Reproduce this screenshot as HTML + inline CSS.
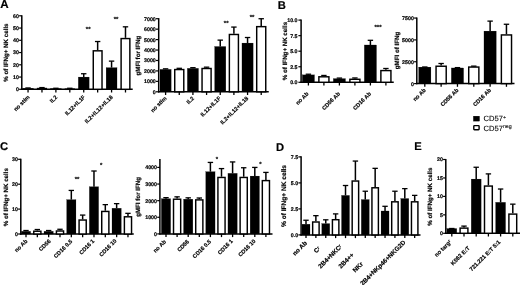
<!DOCTYPE html>
<html><head><meta charset="utf-8"><title>Figure</title>
<style>
html,body{margin:0;padding:0;background:#fff;}
body{width:520px;height:285px;overflow:hidden;}
svg{display:block;font-family:"Liberation Sans", sans-serif;text-rendering:geometricPrecision;}
</style></head><body>
<svg width="520" height="285" viewBox="0 0 520 285">
<rect x="0" y="0" width="520" height="285" fill="#fff"/>
<g fill="#000" stroke="#000" stroke-width="0.18">
<line x1="21.80" y1="15.20" x2="21.80" y2="89.95" stroke="#000" stroke-width="1.5"/>
<line x1="21.15" y1="89.30" x2="132.70" y2="89.30" stroke="#000" stroke-width="1.5"/>
<line x1="19.10" y1="89.30" x2="21.80" y2="89.30" stroke="#000" stroke-width="1.2"/>
<text x="18.90" y="91.21" font-size="5.3" font-weight="bold" text-anchor="end">0</text>
<line x1="19.10" y1="77.05" x2="21.80" y2="77.05" stroke="#000" stroke-width="1.2"/>
<text x="18.90" y="78.96" font-size="5.3" font-weight="bold" text-anchor="end">10</text>
<line x1="19.10" y1="64.80" x2="21.80" y2="64.80" stroke="#000" stroke-width="1.2"/>
<text x="18.90" y="66.71" font-size="5.3" font-weight="bold" text-anchor="end">20</text>
<line x1="19.10" y1="52.55" x2="21.80" y2="52.55" stroke="#000" stroke-width="1.2"/>
<text x="18.90" y="54.46" font-size="5.3" font-weight="bold" text-anchor="end">30</text>
<line x1="19.10" y1="40.30" x2="21.80" y2="40.30" stroke="#000" stroke-width="1.2"/>
<text x="18.90" y="42.21" font-size="5.3" font-weight="bold" text-anchor="end">40</text>
<line x1="19.10" y1="28.05" x2="21.80" y2="28.05" stroke="#000" stroke-width="1.2"/>
<text x="18.90" y="29.96" font-size="5.3" font-weight="bold" text-anchor="end">50</text>
<line x1="19.10" y1="15.80" x2="21.80" y2="15.80" stroke="#000" stroke-width="1.2"/>
<text x="18.90" y="17.71" font-size="5.3" font-weight="bold" text-anchor="end">60</text>
<line x1="28.05" y1="88.20" x2="28.05" y2="87.95" stroke="#000" stroke-width="1.5"/>
<line x1="25.35" y1="87.95" x2="30.75" y2="87.95" stroke="#000" stroke-width="1.3"/>
<rect x="22.60" y="88.20" width="10.90" height="1.10" fill="#000"/>
<line x1="28.05" y1="89.30" x2="28.05" y2="92.50" stroke="#000" stroke-width="1.3"/>
<line x1="41.97" y1="87.83" x2="41.97" y2="87.58" stroke="#000" stroke-width="1.5"/>
<line x1="39.27" y1="87.58" x2="44.67" y2="87.58" stroke="#000" stroke-width="1.3"/>
<rect x="37.59" y="88.55" width="8.75" height="0.74" fill="#fff" stroke="#000" stroke-width="1.45"/>
<line x1="41.97" y1="89.30" x2="41.97" y2="92.50" stroke="#000" stroke-width="1.3"/>
<line x1="55.89" y1="88.44" x2="55.89" y2="88.26" stroke="#000" stroke-width="1.5"/>
<line x1="53.19" y1="88.26" x2="58.59" y2="88.26" stroke="#000" stroke-width="1.3"/>
<rect x="50.44" y="88.44" width="10.90" height="0.86" fill="#000"/>
<line x1="55.89" y1="89.30" x2="55.89" y2="92.50" stroke="#000" stroke-width="1.3"/>
<line x1="69.81" y1="88.44" x2="69.81" y2="88.26" stroke="#000" stroke-width="1.5"/>
<line x1="67.11" y1="88.26" x2="72.51" y2="88.26" stroke="#000" stroke-width="1.3"/>
<rect x="65.44" y="89.17" width="8.75" height="0.13" fill="#fff" stroke="#000" stroke-width="1.45"/>
<line x1="69.81" y1="89.30" x2="69.81" y2="92.50" stroke="#000" stroke-width="1.3"/>
<line x1="83.73" y1="77.05" x2="83.73" y2="73.74" stroke="#000" stroke-width="1.5"/>
<line x1="81.03" y1="73.74" x2="86.43" y2="73.74" stroke="#000" stroke-width="1.3"/>
<rect x="78.28" y="77.05" width="10.90" height="12.25" fill="#000"/>
<line x1="83.73" y1="89.30" x2="83.73" y2="92.50" stroke="#000" stroke-width="1.3"/>
<line x1="97.65" y1="50.10" x2="97.65" y2="41.52" stroke="#000" stroke-width="1.5"/>
<line x1="94.95" y1="41.52" x2="100.35" y2="41.52" stroke="#000" stroke-width="1.3"/>
<rect x="93.27" y="50.82" width="8.75" height="38.48" fill="#fff" stroke="#000" stroke-width="1.45"/>
<line x1="97.65" y1="89.30" x2="97.65" y2="92.50" stroke="#000" stroke-width="1.3"/>
<line x1="111.57" y1="67.62" x2="111.57" y2="61.12" stroke="#000" stroke-width="1.5"/>
<line x1="108.87" y1="61.12" x2="114.27" y2="61.12" stroke="#000" stroke-width="1.3"/>
<rect x="106.12" y="67.62" width="10.90" height="21.68" fill="#000"/>
<line x1="111.57" y1="89.30" x2="111.57" y2="92.50" stroke="#000" stroke-width="1.3"/>
<line x1="125.49" y1="37.85" x2="125.49" y2="26.82" stroke="#000" stroke-width="1.5"/>
<line x1="122.79" y1="26.82" x2="128.19" y2="26.82" stroke="#000" stroke-width="1.3"/>
<rect x="121.11" y="38.57" width="8.75" height="50.73" fill="#fff" stroke="#000" stroke-width="1.45"/>
<line x1="125.49" y1="89.30" x2="125.49" y2="92.50" stroke="#000" stroke-width="1.3"/>
<text x="8.00" y="52.60" font-size="6.2" font-weight="bold" text-anchor="middle" transform="rotate(-90 8.00 52.60)">% of IFNg+ NK cells</text>
<text x="30.00" y="97.50" font-size="5.6" font-weight="bold" text-anchor="end" transform="rotate(-45 30.00 97.50)">no stim</text>
<text x="57.80" y="97.50" font-size="5.6" font-weight="bold" text-anchor="end" transform="rotate(-45 57.80 97.50)">IL2</text>
<text x="85.50" y="97.50" font-size="5.6" font-weight="bold" text-anchor="end" transform="rotate(-45 85.50 97.50)">IL12+IL1F</text>
<text x="113.20" y="97.50" font-size="5.6" font-weight="bold" text-anchor="end" transform="rotate(-45 113.20 97.50)">IL2+IL12+IL18</text>
<text x="88.20" y="31.20" font-size="6" font-weight="bold" text-anchor="middle">**</text>
<text x="116.00" y="21.20" font-size="6" font-weight="bold" text-anchor="middle">**</text>
<line x1="158.70" y1="18.12" x2="158.70" y2="92.45" stroke="#000" stroke-width="1.5"/>
<line x1="158.05" y1="91.80" x2="268.75" y2="91.80" stroke="#000" stroke-width="1.5"/>
<line x1="156.00" y1="91.80" x2="158.70" y2="91.80" stroke="#000" stroke-width="1.2"/>
<text x="155.80" y="93.71" font-size="5.3" font-weight="bold" text-anchor="end">0</text>
<line x1="156.00" y1="81.36" x2="158.70" y2="81.36" stroke="#000" stroke-width="1.2"/>
<text x="155.80" y="83.27" font-size="5.3" font-weight="bold" text-anchor="end">1000</text>
<line x1="156.00" y1="70.92" x2="158.70" y2="70.92" stroke="#000" stroke-width="1.2"/>
<text x="155.80" y="72.83" font-size="5.3" font-weight="bold" text-anchor="end">2000</text>
<line x1="156.00" y1="60.48" x2="158.70" y2="60.48" stroke="#000" stroke-width="1.2"/>
<text x="155.80" y="62.39" font-size="5.3" font-weight="bold" text-anchor="end">3000</text>
<line x1="156.00" y1="50.04" x2="158.70" y2="50.04" stroke="#000" stroke-width="1.2"/>
<text x="155.80" y="51.95" font-size="5.3" font-weight="bold" text-anchor="end">4000</text>
<line x1="156.00" y1="39.60" x2="158.70" y2="39.60" stroke="#000" stroke-width="1.2"/>
<text x="155.80" y="41.51" font-size="5.3" font-weight="bold" text-anchor="end">5000</text>
<line x1="156.00" y1="29.16" x2="158.70" y2="29.16" stroke="#000" stroke-width="1.2"/>
<text x="155.80" y="31.07" font-size="5.3" font-weight="bold" text-anchor="end">6000</text>
<line x1="156.00" y1="18.72" x2="158.70" y2="18.72" stroke="#000" stroke-width="1.2"/>
<text x="155.80" y="20.63" font-size="5.3" font-weight="bold" text-anchor="end">7000</text>
<line x1="165.60" y1="69.35" x2="165.60" y2="68.83" stroke="#000" stroke-width="1.5"/>
<line x1="162.90" y1="68.83" x2="168.30" y2="68.83" stroke="#000" stroke-width="1.3"/>
<rect x="160.00" y="69.35" width="11.20" height="22.45" fill="#000"/>
<line x1="165.60" y1="91.80" x2="165.60" y2="95.00" stroke="#000" stroke-width="1.3"/>
<line x1="179.26" y1="68.83" x2="179.26" y2="68.31" stroke="#000" stroke-width="1.5"/>
<line x1="176.56" y1="68.31" x2="181.96" y2="68.31" stroke="#000" stroke-width="1.3"/>
<rect x="174.73" y="69.56" width="9.05" height="22.24" fill="#fff" stroke="#000" stroke-width="1.45"/>
<line x1="179.26" y1="91.80" x2="179.26" y2="95.00" stroke="#000" stroke-width="1.3"/>
<line x1="192.92" y1="68.31" x2="192.92" y2="67.68" stroke="#000" stroke-width="1.5"/>
<line x1="190.22" y1="67.68" x2="195.62" y2="67.68" stroke="#000" stroke-width="1.3"/>
<rect x="187.32" y="68.31" width="11.20" height="23.49" fill="#000"/>
<line x1="192.92" y1="91.80" x2="192.92" y2="95.00" stroke="#000" stroke-width="1.3"/>
<line x1="206.58" y1="67.79" x2="206.58" y2="67.16" stroke="#000" stroke-width="1.5"/>
<line x1="203.88" y1="67.16" x2="209.28" y2="67.16" stroke="#000" stroke-width="1.3"/>
<rect x="202.05" y="68.51" width="9.05" height="23.29" fill="#fff" stroke="#000" stroke-width="1.45"/>
<line x1="206.58" y1="91.80" x2="206.58" y2="95.00" stroke="#000" stroke-width="1.3"/>
<line x1="220.24" y1="46.49" x2="220.24" y2="40.12" stroke="#000" stroke-width="1.5"/>
<line x1="217.54" y1="40.12" x2="222.94" y2="40.12" stroke="#000" stroke-width="1.3"/>
<rect x="214.64" y="46.49" width="11.20" height="45.31" fill="#000"/>
<line x1="220.24" y1="91.80" x2="220.24" y2="95.00" stroke="#000" stroke-width="1.3"/>
<line x1="233.90" y1="33.75" x2="233.90" y2="27.07" stroke="#000" stroke-width="1.5"/>
<line x1="231.20" y1="27.07" x2="236.60" y2="27.07" stroke="#000" stroke-width="1.3"/>
<rect x="229.37" y="34.48" width="9.05" height="57.32" fill="#fff" stroke="#000" stroke-width="1.45"/>
<line x1="233.90" y1="91.80" x2="233.90" y2="95.00" stroke="#000" stroke-width="1.3"/>
<line x1="247.56" y1="43.05" x2="247.56" y2="37.51" stroke="#000" stroke-width="1.5"/>
<line x1="244.86" y1="37.51" x2="250.26" y2="37.51" stroke="#000" stroke-width="1.3"/>
<rect x="241.96" y="43.05" width="11.20" height="48.75" fill="#000"/>
<line x1="247.56" y1="91.80" x2="247.56" y2="95.00" stroke="#000" stroke-width="1.3"/>
<line x1="261.22" y1="25.92" x2="261.22" y2="18.72" stroke="#000" stroke-width="1.5"/>
<line x1="258.52" y1="18.72" x2="263.92" y2="18.72" stroke="#000" stroke-width="1.3"/>
<rect x="256.70" y="26.65" width="9.05" height="65.15" fill="#fff" stroke="#000" stroke-width="1.45"/>
<line x1="261.22" y1="91.80" x2="261.22" y2="95.00" stroke="#000" stroke-width="1.3"/>
<text x="140.40" y="55.60" font-size="6.2" font-weight="bold" text-anchor="middle" transform="rotate(-90 140.40 55.60)">gMFI for IFNg</text>
<text x="167.00" y="98.70" font-size="5.6" font-weight="bold" text-anchor="end" transform="rotate(-45 167.00 98.70)">no stim</text>
<text x="194.50" y="98.70" font-size="5.6" font-weight="bold" text-anchor="end" transform="rotate(-45 194.50 98.70)">IL2</text>
<text x="221.10" y="98.70" font-size="5.6" font-weight="bold" text-anchor="end" transform="rotate(-45 221.10 98.70)">IL12+IL1F</text>
<text x="248.70" y="98.70" font-size="5.6" font-weight="bold" text-anchor="end" transform="rotate(-45 248.70 98.70)">IL2+IL12+IL18</text>
<text x="226.20" y="25.00" font-size="6" font-weight="bold" text-anchor="middle">**</text>
<text x="252.00" y="18.60" font-size="6" font-weight="bold" text-anchor="middle">**</text>
<line x1="301.10" y1="19.50" x2="301.10" y2="82.95" stroke="#000" stroke-width="1.5"/>
<line x1="300.45" y1="82.30" x2="393.75" y2="82.30" stroke="#000" stroke-width="1.5"/>
<line x1="298.40" y1="82.30" x2="301.10" y2="82.30" stroke="#000" stroke-width="1.2"/>
<text x="297.50" y="84.21" font-size="5.3" font-weight="bold" text-anchor="end">0.0</text>
<line x1="298.40" y1="66.75" x2="301.10" y2="66.75" stroke="#000" stroke-width="1.2"/>
<text x="297.50" y="68.66" font-size="5.3" font-weight="bold" text-anchor="end">2.5</text>
<line x1="298.40" y1="51.20" x2="301.10" y2="51.20" stroke="#000" stroke-width="1.2"/>
<text x="297.50" y="53.11" font-size="5.3" font-weight="bold" text-anchor="end">5.0</text>
<line x1="298.40" y1="35.65" x2="301.10" y2="35.65" stroke="#000" stroke-width="1.2"/>
<text x="297.50" y="37.56" font-size="5.3" font-weight="bold" text-anchor="end">7.5</text>
<line x1="298.40" y1="20.10" x2="301.10" y2="20.10" stroke="#000" stroke-width="1.2"/>
<text x="297.50" y="22.01" font-size="5.3" font-weight="bold" text-anchor="end">10.0</text>
<line x1="308.40" y1="74.84" x2="308.40" y2="74.21" stroke="#000" stroke-width="1.5"/>
<line x1="305.70" y1="74.21" x2="311.10" y2="74.21" stroke="#000" stroke-width="1.3"/>
<rect x="302.30" y="74.84" width="12.20" height="7.46" fill="#000"/>
<line x1="308.40" y1="82.30" x2="308.40" y2="85.50" stroke="#000" stroke-width="1.3"/>
<line x1="323.90" y1="76.08" x2="323.90" y2="75.46" stroke="#000" stroke-width="1.5"/>
<line x1="321.20" y1="75.46" x2="326.60" y2="75.46" stroke="#000" stroke-width="1.3"/>
<rect x="318.88" y="76.80" width="10.05" height="5.49" fill="#fff" stroke="#000" stroke-width="1.45"/>
<line x1="323.90" y1="82.30" x2="323.90" y2="85.50" stroke="#000" stroke-width="1.3"/>
<line x1="339.40" y1="78.57" x2="339.40" y2="78.07" stroke="#000" stroke-width="1.5"/>
<line x1="336.70" y1="78.07" x2="342.10" y2="78.07" stroke="#000" stroke-width="1.3"/>
<rect x="333.30" y="78.57" width="12.20" height="3.73" fill="#000"/>
<line x1="339.40" y1="82.30" x2="339.40" y2="85.50" stroke="#000" stroke-width="1.3"/>
<line x1="354.90" y1="78.57" x2="354.90" y2="77.95" stroke="#000" stroke-width="1.5"/>
<line x1="352.20" y1="77.95" x2="357.60" y2="77.95" stroke="#000" stroke-width="1.3"/>
<rect x="349.88" y="79.29" width="10.05" height="3.01" fill="#fff" stroke="#000" stroke-width="1.45"/>
<line x1="354.90" y1="82.30" x2="354.90" y2="85.50" stroke="#000" stroke-width="1.3"/>
<line x1="370.40" y1="44.98" x2="370.40" y2="40.31" stroke="#000" stroke-width="1.5"/>
<line x1="367.70" y1="40.31" x2="373.10" y2="40.31" stroke="#000" stroke-width="1.3"/>
<rect x="364.30" y="44.98" width="12.20" height="37.32" fill="#000"/>
<line x1="370.40" y1="82.30" x2="370.40" y2="85.50" stroke="#000" stroke-width="1.3"/>
<line x1="385.90" y1="69.86" x2="385.90" y2="68.49" stroke="#000" stroke-width="1.5"/>
<line x1="383.20" y1="68.49" x2="388.60" y2="68.49" stroke="#000" stroke-width="1.3"/>
<rect x="380.88" y="70.58" width="10.05" height="11.71" fill="#fff" stroke="#000" stroke-width="1.45"/>
<line x1="385.90" y1="82.30" x2="385.90" y2="85.50" stroke="#000" stroke-width="1.3"/>
<text x="287.00" y="51.00" font-size="6.2" font-weight="bold" text-anchor="middle" transform="rotate(-90 287.00 51.00)">% of IFNg+ NK cells</text>
<text x="309.00" y="94.20" font-size="5.6" font-weight="bold" text-anchor="end" transform="rotate(-45 309.00 94.20)">no Ab</text>
<text x="340.50" y="94.20" font-size="5.6" font-weight="bold" text-anchor="end" transform="rotate(-45 340.50 94.20)">CD56 Ab</text>
<text x="371.50" y="94.20" font-size="5.6" font-weight="bold" text-anchor="end" transform="rotate(-45 371.50 94.20)">CD16 Ab</text>
<text x="378.00" y="29.00" font-size="6" font-weight="bold" text-anchor="middle">***</text>
<line x1="416.80" y1="17.45" x2="416.80" y2="84.25" stroke="#000" stroke-width="1.5"/>
<line x1="416.15" y1="83.60" x2="514.50" y2="83.60" stroke="#000" stroke-width="1.5"/>
<line x1="414.10" y1="83.60" x2="416.80" y2="83.60" stroke="#000" stroke-width="1.2"/>
<text x="413.90" y="85.51" font-size="5.3" font-weight="bold" text-anchor="end">0</text>
<line x1="414.10" y1="61.75" x2="416.80" y2="61.75" stroke="#000" stroke-width="1.2"/>
<text x="413.90" y="63.66" font-size="5.3" font-weight="bold" text-anchor="end">2500</text>
<line x1="414.10" y1="39.90" x2="416.80" y2="39.90" stroke="#000" stroke-width="1.2"/>
<text x="413.90" y="41.81" font-size="5.3" font-weight="bold" text-anchor="end">5000</text>
<line x1="414.10" y1="18.05" x2="416.80" y2="18.05" stroke="#000" stroke-width="1.2"/>
<text x="413.90" y="19.96" font-size="5.3" font-weight="bold" text-anchor="end">7500</text>
<line x1="424.80" y1="67.08" x2="424.80" y2="66.99" stroke="#000" stroke-width="1.5"/>
<line x1="422.10" y1="66.99" x2="427.50" y2="66.99" stroke="#000" stroke-width="1.3"/>
<rect x="418.65" y="67.08" width="12.30" height="16.52" fill="#000"/>
<line x1="424.80" y1="83.60" x2="424.80" y2="86.80" stroke="#000" stroke-width="1.3"/>
<line x1="441.13" y1="65.51" x2="441.13" y2="63.50" stroke="#000" stroke-width="1.5"/>
<line x1="438.43" y1="63.50" x2="443.83" y2="63.50" stroke="#000" stroke-width="1.3"/>
<rect x="436.06" y="66.23" width="10.15" height="17.37" fill="#fff" stroke="#000" stroke-width="1.45"/>
<line x1="441.13" y1="83.60" x2="441.13" y2="86.80" stroke="#000" stroke-width="1.3"/>
<line x1="457.46" y1="67.96" x2="457.46" y2="67.61" stroke="#000" stroke-width="1.5"/>
<line x1="454.76" y1="67.61" x2="460.16" y2="67.61" stroke="#000" stroke-width="1.3"/>
<rect x="451.31" y="67.96" width="12.30" height="15.64" fill="#000"/>
<line x1="457.46" y1="83.60" x2="457.46" y2="86.80" stroke="#000" stroke-width="1.3"/>
<line x1="473.79" y1="66.34" x2="473.79" y2="66.12" stroke="#000" stroke-width="1.5"/>
<line x1="471.09" y1="66.12" x2="476.49" y2="66.12" stroke="#000" stroke-width="1.3"/>
<rect x="468.72" y="67.06" width="10.15" height="16.54" fill="#fff" stroke="#000" stroke-width="1.45"/>
<line x1="473.79" y1="83.60" x2="473.79" y2="86.80" stroke="#000" stroke-width="1.3"/>
<line x1="490.12" y1="31.07" x2="490.12" y2="21.11" stroke="#000" stroke-width="1.5"/>
<line x1="487.42" y1="21.11" x2="492.82" y2="21.11" stroke="#000" stroke-width="1.3"/>
<rect x="483.97" y="31.07" width="12.30" height="52.53" fill="#000"/>
<line x1="490.12" y1="83.60" x2="490.12" y2="86.80" stroke="#000" stroke-width="1.3"/>
<line x1="506.45" y1="34.22" x2="506.45" y2="24.26" stroke="#000" stroke-width="1.5"/>
<line x1="503.75" y1="24.26" x2="509.15" y2="24.26" stroke="#000" stroke-width="1.3"/>
<rect x="501.38" y="34.94" width="10.15" height="48.66" fill="#fff" stroke="#000" stroke-width="1.45"/>
<line x1="506.45" y1="83.60" x2="506.45" y2="86.80" stroke="#000" stroke-width="1.3"/>
<text x="399.40" y="50.50" font-size="6.2" font-weight="bold" text-anchor="middle" transform="rotate(-90 399.40 50.50)">gMFI of IFNg</text>
<text x="426.20" y="90.50" font-size="5.6" font-weight="bold" text-anchor="end" transform="rotate(-45 426.20 90.50)">no Ab</text>
<text x="459.00" y="90.50" font-size="5.6" font-weight="bold" text-anchor="end" transform="rotate(-45 459.00 90.50)">CD56 Ab</text>
<text x="491.50" y="90.50" font-size="5.6" font-weight="bold" text-anchor="end" transform="rotate(-45 491.50 90.50)">CD16 Ab</text>
<line x1="20.80" y1="158.70" x2="20.80" y2="234.65" stroke="#000" stroke-width="1.5"/>
<line x1="20.15" y1="234.00" x2="133.75" y2="234.00" stroke="#000" stroke-width="1.5"/>
<line x1="18.10" y1="234.00" x2="20.80" y2="234.00" stroke="#000" stroke-width="1.2"/>
<text x="17.90" y="235.91" font-size="5.3" font-weight="bold" text-anchor="end">0</text>
<line x1="18.10" y1="209.10" x2="20.80" y2="209.10" stroke="#000" stroke-width="1.2"/>
<text x="17.90" y="211.01" font-size="5.3" font-weight="bold" text-anchor="end">10</text>
<line x1="18.10" y1="184.20" x2="20.80" y2="184.20" stroke="#000" stroke-width="1.2"/>
<text x="17.90" y="186.11" font-size="5.3" font-weight="bold" text-anchor="end">20</text>
<line x1="18.10" y1="159.30" x2="20.80" y2="159.30" stroke="#000" stroke-width="1.2"/>
<text x="17.90" y="161.21" font-size="5.3" font-weight="bold" text-anchor="end">30</text>
<line x1="26.00" y1="231.26" x2="26.00" y2="230.51" stroke="#000" stroke-width="1.5"/>
<line x1="23.30" y1="230.51" x2="28.70" y2="230.51" stroke="#000" stroke-width="1.3"/>
<rect x="21.35" y="231.26" width="9.30" height="2.74" fill="#000"/>
<line x1="26.00" y1="234.00" x2="26.00" y2="237.20" stroke="#000" stroke-width="1.3"/>
<line x1="37.33" y1="230.51" x2="37.33" y2="229.52" stroke="#000" stroke-width="1.5"/>
<line x1="34.63" y1="229.52" x2="40.03" y2="229.52" stroke="#000" stroke-width="1.3"/>
<rect x="33.76" y="231.24" width="7.15" height="2.76" fill="#fff" stroke="#000" stroke-width="1.45"/>
<line x1="37.33" y1="234.00" x2="37.33" y2="237.20" stroke="#000" stroke-width="1.3"/>
<line x1="48.66" y1="231.26" x2="48.66" y2="230.51" stroke="#000" stroke-width="1.5"/>
<line x1="45.96" y1="230.51" x2="51.36" y2="230.51" stroke="#000" stroke-width="1.3"/>
<rect x="44.01" y="231.26" width="9.30" height="2.74" fill="#000"/>
<line x1="48.66" y1="234.00" x2="48.66" y2="237.20" stroke="#000" stroke-width="1.3"/>
<line x1="59.99" y1="230.26" x2="59.99" y2="229.27" stroke="#000" stroke-width="1.5"/>
<line x1="57.29" y1="229.27" x2="62.69" y2="229.27" stroke="#000" stroke-width="1.3"/>
<rect x="56.42" y="230.99" width="7.15" height="3.01" fill="#fff" stroke="#000" stroke-width="1.45"/>
<line x1="59.99" y1="234.00" x2="59.99" y2="237.20" stroke="#000" stroke-width="1.3"/>
<line x1="71.32" y1="199.64" x2="71.32" y2="190.43" stroke="#000" stroke-width="1.5"/>
<line x1="68.62" y1="190.43" x2="74.02" y2="190.43" stroke="#000" stroke-width="1.3"/>
<rect x="66.67" y="199.64" width="9.30" height="34.36" fill="#000"/>
<line x1="71.32" y1="234.00" x2="71.32" y2="237.20" stroke="#000" stroke-width="1.3"/>
<line x1="82.65" y1="219.31" x2="82.65" y2="215.08" stroke="#000" stroke-width="1.5"/>
<line x1="79.95" y1="215.08" x2="85.35" y2="215.08" stroke="#000" stroke-width="1.3"/>
<rect x="79.08" y="220.03" width="7.15" height="13.97" fill="#fff" stroke="#000" stroke-width="1.45"/>
<line x1="82.65" y1="234.00" x2="82.65" y2="237.20" stroke="#000" stroke-width="1.3"/>
<line x1="93.98" y1="186.69" x2="93.98" y2="171.00" stroke="#000" stroke-width="1.5"/>
<line x1="91.28" y1="171.00" x2="96.68" y2="171.00" stroke="#000" stroke-width="1.3"/>
<rect x="89.33" y="186.69" width="9.30" height="47.31" fill="#000"/>
<line x1="93.98" y1="234.00" x2="93.98" y2="237.20" stroke="#000" stroke-width="1.3"/>
<line x1="105.31" y1="210.72" x2="105.31" y2="204.62" stroke="#000" stroke-width="1.5"/>
<line x1="102.61" y1="204.62" x2="108.01" y2="204.62" stroke="#000" stroke-width="1.3"/>
<rect x="101.73" y="211.44" width="7.15" height="22.56" fill="#fff" stroke="#000" stroke-width="1.45"/>
<line x1="105.31" y1="234.00" x2="105.31" y2="237.20" stroke="#000" stroke-width="1.3"/>
<line x1="116.64" y1="208.23" x2="116.64" y2="203.62" stroke="#000" stroke-width="1.5"/>
<line x1="113.94" y1="203.62" x2="119.34" y2="203.62" stroke="#000" stroke-width="1.3"/>
<rect x="111.99" y="208.23" width="9.30" height="25.77" fill="#000"/>
<line x1="116.64" y1="234.00" x2="116.64" y2="237.20" stroke="#000" stroke-width="1.3"/>
<line x1="127.97" y1="216.07" x2="127.97" y2="213.33" stroke="#000" stroke-width="1.5"/>
<line x1="125.27" y1="213.33" x2="130.67" y2="213.33" stroke="#000" stroke-width="1.3"/>
<rect x="124.39" y="216.80" width="7.15" height="17.20" fill="#fff" stroke="#000" stroke-width="1.45"/>
<line x1="127.97" y1="234.00" x2="127.97" y2="237.20" stroke="#000" stroke-width="1.3"/>
<text x="7.60" y="197.20" font-size="6.2" font-weight="bold" text-anchor="middle" transform="rotate(-90 7.60 197.20)">% of IFNg+ NK cells</text>
<text x="27.80" y="241.50" font-size="5.6" font-weight="bold" text-anchor="end" transform="rotate(-45 27.80 241.50)">no Ab</text>
<text x="51.10" y="241.50" font-size="5.6" font-weight="bold" text-anchor="end" transform="rotate(-45 51.10 241.50)">CD56</text>
<text x="72.70" y="241.80" font-size="5.6" font-weight="bold" text-anchor="end" transform="rotate(-45 72.70 241.80)">CD16 0.5</text>
<text x="94.80" y="241.50" font-size="5.6" font-weight="bold" text-anchor="end" transform="rotate(-45 94.80 241.50)">CD16 1</text>
<text x="117.00" y="241.30" font-size="5.6" font-weight="bold" text-anchor="end" transform="rotate(-45 117.00 241.30)">CD16 10</text>
<text x="77.00" y="180.50" font-size="6" font-weight="bold" text-anchor="middle">**</text>
<text x="101.25" y="166.50" font-size="6" font-weight="bold" text-anchor="middle">*</text>
<line x1="159.90" y1="158.90" x2="159.90" y2="234.55" stroke="#000" stroke-width="1.5"/>
<line x1="159.25" y1="233.90" x2="272.50" y2="233.90" stroke="#000" stroke-width="1.5"/>
<line x1="157.20" y1="233.90" x2="159.90" y2="233.90" stroke="#000" stroke-width="1.2"/>
<text x="157.00" y="235.81" font-size="5.3" font-weight="bold" text-anchor="end">0</text>
<line x1="157.20" y1="217.28" x2="159.90" y2="217.28" stroke="#000" stroke-width="1.2"/>
<text x="157.00" y="219.19" font-size="5.3" font-weight="bold" text-anchor="end">1000</text>
<line x1="157.20" y1="200.66" x2="159.90" y2="200.66" stroke="#000" stroke-width="1.2"/>
<text x="157.00" y="202.57" font-size="5.3" font-weight="bold" text-anchor="end">2000</text>
<line x1="157.20" y1="184.04" x2="159.90" y2="184.04" stroke="#000" stroke-width="1.2"/>
<text x="157.00" y="185.95" font-size="5.3" font-weight="bold" text-anchor="end">3000</text>
<line x1="157.20" y1="167.42" x2="159.90" y2="167.42" stroke="#000" stroke-width="1.2"/>
<text x="157.00" y="169.33" font-size="5.3" font-weight="bold" text-anchor="end">4000</text>
<line x1="166.00" y1="198.67" x2="166.00" y2="197.67" stroke="#000" stroke-width="1.5"/>
<line x1="163.30" y1="197.67" x2="168.70" y2="197.67" stroke="#000" stroke-width="1.3"/>
<rect x="161.35" y="198.67" width="9.30" height="35.23" fill="#000"/>
<line x1="166.00" y1="233.90" x2="166.00" y2="237.10" stroke="#000" stroke-width="1.3"/>
<line x1="177.10" y1="198.50" x2="177.10" y2="196.84" stroke="#000" stroke-width="1.5"/>
<line x1="174.40" y1="196.84" x2="179.80" y2="196.84" stroke="#000" stroke-width="1.3"/>
<rect x="173.52" y="199.22" width="7.15" height="34.68" fill="#fff" stroke="#000" stroke-width="1.45"/>
<line x1="177.10" y1="233.90" x2="177.10" y2="237.10" stroke="#000" stroke-width="1.3"/>
<line x1="188.20" y1="199.16" x2="188.20" y2="197.83" stroke="#000" stroke-width="1.5"/>
<line x1="185.50" y1="197.83" x2="190.90" y2="197.83" stroke="#000" stroke-width="1.3"/>
<rect x="183.55" y="199.16" width="9.30" height="34.74" fill="#000"/>
<line x1="188.20" y1="233.90" x2="188.20" y2="237.10" stroke="#000" stroke-width="1.3"/>
<line x1="199.30" y1="199.16" x2="199.30" y2="198.00" stroke="#000" stroke-width="1.5"/>
<line x1="196.60" y1="198.00" x2="202.00" y2="198.00" stroke="#000" stroke-width="1.3"/>
<rect x="195.72" y="199.89" width="7.15" height="34.01" fill="#fff" stroke="#000" stroke-width="1.45"/>
<line x1="199.30" y1="233.90" x2="199.30" y2="237.10" stroke="#000" stroke-width="1.3"/>
<line x1="210.40" y1="171.66" x2="210.40" y2="162.43" stroke="#000" stroke-width="1.5"/>
<line x1="207.70" y1="162.43" x2="213.10" y2="162.43" stroke="#000" stroke-width="1.3"/>
<rect x="205.75" y="171.66" width="9.30" height="62.24" fill="#000"/>
<line x1="210.40" y1="233.90" x2="210.40" y2="237.10" stroke="#000" stroke-width="1.3"/>
<line x1="221.50" y1="176.73" x2="221.50" y2="168.58" stroke="#000" stroke-width="1.5"/>
<line x1="218.80" y1="168.58" x2="224.20" y2="168.58" stroke="#000" stroke-width="1.3"/>
<rect x="217.92" y="177.45" width="7.15" height="56.45" fill="#fff" stroke="#000" stroke-width="1.45"/>
<line x1="221.50" y1="233.90" x2="221.50" y2="237.10" stroke="#000" stroke-width="1.3"/>
<line x1="232.60" y1="173.32" x2="232.60" y2="161.94" stroke="#000" stroke-width="1.5"/>
<line x1="229.90" y1="161.94" x2="235.30" y2="161.94" stroke="#000" stroke-width="1.3"/>
<rect x="227.95" y="173.32" width="9.30" height="60.58" fill="#000"/>
<line x1="232.60" y1="233.90" x2="232.60" y2="237.10" stroke="#000" stroke-width="1.3"/>
<line x1="243.70" y1="176.73" x2="243.70" y2="167.75" stroke="#000" stroke-width="1.5"/>
<line x1="241.00" y1="167.75" x2="246.40" y2="167.75" stroke="#000" stroke-width="1.3"/>
<rect x="240.12" y="177.45" width="7.15" height="56.45" fill="#fff" stroke="#000" stroke-width="1.45"/>
<line x1="243.70" y1="233.90" x2="243.70" y2="237.10" stroke="#000" stroke-width="1.3"/>
<line x1="254.80" y1="176.06" x2="254.80" y2="167.42" stroke="#000" stroke-width="1.5"/>
<line x1="252.10" y1="167.42" x2="257.50" y2="167.42" stroke="#000" stroke-width="1.3"/>
<rect x="250.15" y="176.06" width="9.30" height="57.84" fill="#000"/>
<line x1="254.80" y1="233.90" x2="254.80" y2="237.10" stroke="#000" stroke-width="1.3"/>
<line x1="265.90" y1="179.88" x2="265.90" y2="172.41" stroke="#000" stroke-width="1.5"/>
<line x1="263.20" y1="172.41" x2="268.60" y2="172.41" stroke="#000" stroke-width="1.3"/>
<rect x="262.32" y="180.61" width="7.15" height="53.29" fill="#fff" stroke="#000" stroke-width="1.45"/>
<line x1="265.90" y1="233.90" x2="265.90" y2="237.10" stroke="#000" stroke-width="1.3"/>
<text x="140.40" y="196.90" font-size="6.2" font-weight="bold" text-anchor="middle" transform="rotate(-90 140.40 196.90)">gMFI for IFNg</text>
<text x="166.50" y="242.00" font-size="5.6" font-weight="bold" text-anchor="end" transform="rotate(-45 166.50 242.00)">no Ab</text>
<text x="189.50" y="242.00" font-size="5.6" font-weight="bold" text-anchor="end" transform="rotate(-45 189.50 242.00)">CD56</text>
<text x="211.50" y="242.00" font-size="5.6" font-weight="bold" text-anchor="end" transform="rotate(-45 211.50 242.00)">CD16 0.5</text>
<text x="233.30" y="241.60" font-size="5.6" font-weight="bold" text-anchor="end" transform="rotate(-45 233.30 241.60)">CD16 1</text>
<text x="256.00" y="241.50" font-size="5.6" font-weight="bold" text-anchor="end" transform="rotate(-45 256.00 241.50)">CD16 10</text>
<text x="217.00" y="161.00" font-size="6" font-weight="bold" text-anchor="middle">*</text>
<text x="260.50" y="166.20" font-size="6" font-weight="bold" text-anchor="middle">*</text>
<line x1="301.10" y1="156.30" x2="301.10" y2="235.55" stroke="#000" stroke-width="1.5"/>
<line x1="300.45" y1="234.90" x2="420.50" y2="234.90" stroke="#000" stroke-width="1.5"/>
<line x1="298.40" y1="234.90" x2="301.10" y2="234.90" stroke="#000" stroke-width="1.2"/>
<text x="298.20" y="236.81" font-size="5.3" font-weight="bold" text-anchor="end">0.0</text>
<line x1="298.40" y1="208.90" x2="301.10" y2="208.90" stroke="#000" stroke-width="1.2"/>
<text x="298.20" y="210.81" font-size="5.3" font-weight="bold" text-anchor="end">2.5</text>
<line x1="298.40" y1="182.90" x2="301.10" y2="182.90" stroke="#000" stroke-width="1.2"/>
<text x="298.20" y="184.81" font-size="5.3" font-weight="bold" text-anchor="end">5.0</text>
<line x1="298.40" y1="156.90" x2="301.10" y2="156.90" stroke="#000" stroke-width="1.2"/>
<text x="298.20" y="158.81" font-size="5.3" font-weight="bold" text-anchor="end">7.5</text>
<line x1="306.00" y1="224.19" x2="306.00" y2="220.24" stroke="#000" stroke-width="1.5"/>
<line x1="303.30" y1="220.24" x2="308.70" y2="220.24" stroke="#000" stroke-width="1.3"/>
<rect x="302.00" y="224.19" width="8.00" height="10.71" fill="#000"/>
<line x1="306.00" y1="234.90" x2="306.00" y2="238.10" stroke="#000" stroke-width="1.3"/>
<line x1="315.88" y1="221.28" x2="315.88" y2="215.66" stroke="#000" stroke-width="1.5"/>
<line x1="313.18" y1="215.66" x2="318.58" y2="215.66" stroke="#000" stroke-width="1.3"/>
<rect x="312.66" y="222.00" width="6.45" height="12.90" fill="#fff" stroke="#000" stroke-width="1.45"/>
<line x1="315.88" y1="234.90" x2="315.88" y2="238.10" stroke="#000" stroke-width="1.3"/>
<line x1="325.76" y1="223.56" x2="325.76" y2="219.82" stroke="#000" stroke-width="1.5"/>
<line x1="323.06" y1="219.82" x2="328.46" y2="219.82" stroke="#000" stroke-width="1.3"/>
<rect x="321.76" y="223.56" width="8.00" height="11.34" fill="#000"/>
<line x1="325.76" y1="234.90" x2="325.76" y2="238.10" stroke="#000" stroke-width="1.3"/>
<line x1="335.64" y1="218.99" x2="335.64" y2="213.89" stroke="#000" stroke-width="1.5"/>
<line x1="332.94" y1="213.89" x2="338.34" y2="213.89" stroke="#000" stroke-width="1.3"/>
<rect x="332.42" y="219.71" width="6.45" height="15.19" fill="#fff" stroke="#000" stroke-width="1.45"/>
<line x1="335.64" y1="234.90" x2="335.64" y2="238.10" stroke="#000" stroke-width="1.3"/>
<line x1="345.52" y1="195.38" x2="345.52" y2="185.50" stroke="#000" stroke-width="1.5"/>
<line x1="342.82" y1="185.50" x2="348.22" y2="185.50" stroke="#000" stroke-width="1.3"/>
<rect x="341.52" y="195.38" width="8.00" height="39.52" fill="#000"/>
<line x1="345.52" y1="234.90" x2="345.52" y2="238.10" stroke="#000" stroke-width="1.3"/>
<line x1="355.40" y1="180.30" x2="355.40" y2="161.06" stroke="#000" stroke-width="1.5"/>
<line x1="352.70" y1="161.06" x2="358.10" y2="161.06" stroke="#000" stroke-width="1.3"/>
<rect x="352.18" y="181.03" width="6.45" height="53.87" fill="#fff" stroke="#000" stroke-width="1.45"/>
<line x1="355.40" y1="234.90" x2="355.40" y2="238.10" stroke="#000" stroke-width="1.3"/>
<line x1="365.28" y1="199.54" x2="365.28" y2="191.22" stroke="#000" stroke-width="1.5"/>
<line x1="362.58" y1="191.22" x2="367.98" y2="191.22" stroke="#000" stroke-width="1.3"/>
<rect x="361.28" y="199.54" width="8.00" height="35.36" fill="#000"/>
<line x1="365.28" y1="234.90" x2="365.28" y2="238.10" stroke="#000" stroke-width="1.3"/>
<line x1="375.16" y1="187.06" x2="375.16" y2="168.34" stroke="#000" stroke-width="1.5"/>
<line x1="372.46" y1="168.34" x2="377.86" y2="168.34" stroke="#000" stroke-width="1.3"/>
<rect x="371.94" y="187.78" width="6.45" height="47.12" fill="#fff" stroke="#000" stroke-width="1.45"/>
<line x1="375.16" y1="234.90" x2="375.16" y2="238.10" stroke="#000" stroke-width="1.3"/>
<line x1="385.04" y1="210.98" x2="385.04" y2="206.30" stroke="#000" stroke-width="1.5"/>
<line x1="382.34" y1="206.30" x2="387.74" y2="206.30" stroke="#000" stroke-width="1.3"/>
<rect x="381.04" y="210.98" width="8.00" height="23.92" fill="#000"/>
<line x1="385.04" y1="234.90" x2="385.04" y2="238.10" stroke="#000" stroke-width="1.3"/>
<line x1="394.92" y1="201.10" x2="394.92" y2="191.22" stroke="#000" stroke-width="1.5"/>
<line x1="392.22" y1="191.22" x2="397.62" y2="191.22" stroke="#000" stroke-width="1.3"/>
<rect x="391.70" y="201.82" width="6.45" height="33.08" fill="#fff" stroke="#000" stroke-width="1.45"/>
<line x1="394.92" y1="234.90" x2="394.92" y2="238.10" stroke="#000" stroke-width="1.3"/>
<line x1="404.80" y1="198.50" x2="404.80" y2="188.62" stroke="#000" stroke-width="1.5"/>
<line x1="402.10" y1="188.62" x2="407.50" y2="188.62" stroke="#000" stroke-width="1.3"/>
<rect x="400.80" y="198.50" width="8.00" height="36.40" fill="#000"/>
<line x1="404.80" y1="234.90" x2="404.80" y2="238.10" stroke="#000" stroke-width="1.3"/>
<line x1="414.68" y1="201.10" x2="414.68" y2="195.38" stroke="#000" stroke-width="1.5"/>
<line x1="411.98" y1="195.38" x2="417.38" y2="195.38" stroke="#000" stroke-width="1.3"/>
<rect x="411.46" y="201.82" width="6.45" height="33.08" fill="#fff" stroke="#000" stroke-width="1.45"/>
<line x1="414.68" y1="234.90" x2="414.68" y2="238.10" stroke="#000" stroke-width="1.3"/>
<text x="285.80" y="196.00" font-size="6.6" font-weight="bold" text-anchor="middle" transform="rotate(-90 285.80 196.00)">% of IFNg+ NK cells</text>
<text x="307.40" y="243.50" font-size="6.3" font-weight="bold" text-anchor="end" transform="rotate(-45 307.40 243.50)">no Ab</text>
<text x="320.70" y="249.10" font-size="6.3" font-weight="bold" text-anchor="end" transform="rotate(-45 320.70 249.10)">C<tspan font-size="4.4" dy="-1.5">r</tspan></text>
<text x="342.40" y="247.10" font-size="6.3" font-weight="bold" text-anchor="end" transform="rotate(-45 342.40 247.10)">2B4+NKC<tspan font-size="4.4" dy="-1.5">r</tspan></text>
<text x="354.40" y="255.30" font-size="6.3" font-weight="bold" text-anchor="end" transform="rotate(-45 354.40 255.30)">2B4++</text>
<text x="363.50" y="264.60" font-size="6.3" font-weight="bold" text-anchor="end" transform="rotate(-45 363.50 264.60)">NKr</text>
<text x="405.90" y="242.80" font-size="6.3" font-weight="bold" text-anchor="end" transform="rotate(-45 405.90 242.80)">2B4+NKp46+NKG2D</text>
<line x1="445.80" y1="158.90" x2="445.80" y2="233.95" stroke="#000" stroke-width="1.5"/>
<line x1="445.15" y1="233.30" x2="520.00" y2="233.30" stroke="#000" stroke-width="1.5"/>
<line x1="443.10" y1="233.30" x2="445.80" y2="233.30" stroke="#000" stroke-width="1.2"/>
<text x="442.90" y="235.21" font-size="5.3" font-weight="bold" text-anchor="end">0</text>
<line x1="443.10" y1="214.85" x2="445.80" y2="214.85" stroke="#000" stroke-width="1.2"/>
<text x="442.90" y="216.76" font-size="5.3" font-weight="bold" text-anchor="end">5</text>
<line x1="443.10" y1="196.40" x2="445.80" y2="196.40" stroke="#000" stroke-width="1.2"/>
<text x="442.90" y="198.31" font-size="5.3" font-weight="bold" text-anchor="end">10</text>
<line x1="443.10" y1="177.95" x2="445.80" y2="177.95" stroke="#000" stroke-width="1.2"/>
<text x="442.90" y="179.86" font-size="5.3" font-weight="bold" text-anchor="end">15</text>
<line x1="443.10" y1="159.50" x2="445.80" y2="159.50" stroke="#000" stroke-width="1.2"/>
<text x="442.90" y="161.41" font-size="5.3" font-weight="bold" text-anchor="end">20</text>
<line x1="451.80" y1="228.50" x2="451.80" y2="228.50" stroke="#000" stroke-width="1.5"/>
<line x1="449.10" y1="228.50" x2="454.50" y2="228.50" stroke="#000" stroke-width="1.3"/>
<rect x="446.82" y="228.50" width="9.95" height="4.80" fill="#000"/>
<line x1="451.80" y1="233.30" x2="451.80" y2="236.50" stroke="#000" stroke-width="1.3"/>
<line x1="464.00" y1="227.40" x2="464.00" y2="226.10" stroke="#000" stroke-width="1.5"/>
<line x1="461.30" y1="226.10" x2="466.70" y2="226.10" stroke="#000" stroke-width="1.3"/>
<rect x="460.10" y="228.12" width="7.80" height="5.18" fill="#fff" stroke="#000" stroke-width="1.45"/>
<line x1="464.00" y1="233.30" x2="464.00" y2="236.50" stroke="#000" stroke-width="1.3"/>
<line x1="476.20" y1="179.06" x2="476.20" y2="167.25" stroke="#000" stroke-width="1.5"/>
<line x1="473.50" y1="167.25" x2="478.90" y2="167.25" stroke="#000" stroke-width="1.3"/>
<rect x="471.22" y="179.06" width="9.95" height="54.24" fill="#000"/>
<line x1="476.20" y1="233.30" x2="476.20" y2="236.50" stroke="#000" stroke-width="1.3"/>
<line x1="488.40" y1="185.33" x2="488.40" y2="173.89" stroke="#000" stroke-width="1.5"/>
<line x1="485.70" y1="173.89" x2="491.10" y2="173.89" stroke="#000" stroke-width="1.3"/>
<rect x="484.50" y="186.06" width="7.80" height="47.24" fill="#fff" stroke="#000" stroke-width="1.45"/>
<line x1="488.40" y1="233.30" x2="488.40" y2="236.50" stroke="#000" stroke-width="1.3"/>
<line x1="500.60" y1="202.30" x2="500.60" y2="189.02" stroke="#000" stroke-width="1.5"/>
<line x1="497.90" y1="189.02" x2="503.30" y2="189.02" stroke="#000" stroke-width="1.3"/>
<rect x="495.62" y="202.30" width="9.95" height="31.00" fill="#000"/>
<line x1="500.60" y1="233.30" x2="500.60" y2="236.50" stroke="#000" stroke-width="1.3"/>
<line x1="512.80" y1="213.37" x2="512.80" y2="204.15" stroke="#000" stroke-width="1.5"/>
<line x1="510.10" y1="204.15" x2="515.50" y2="204.15" stroke="#000" stroke-width="1.3"/>
<rect x="508.90" y="214.10" width="7.80" height="19.20" fill="#fff" stroke="#000" stroke-width="1.45"/>
<line x1="512.80" y1="233.30" x2="512.80" y2="236.50" stroke="#000" stroke-width="1.3"/>
<text x="431.90" y="196.60" font-size="6.2" font-weight="bold" text-anchor="middle" transform="rotate(-90 431.90 196.60)">% of IFNg+ NK cells</text>
<text x="451.70" y="242.40" font-size="5.7" font-weight="bold" text-anchor="end" transform="rotate(-45 451.70 242.40)">no targ<tspan font-size="4.4" dy="-1.5">r</tspan></text>
<text x="470.20" y="248.50" font-size="5.7" font-weight="bold" text-anchor="end" transform="rotate(-45 470.20 248.50)">K562 E:T</text>
<text x="500.80" y="242.50" font-size="5.7" font-weight="bold" text-anchor="end" transform="rotate(-45 500.80 242.50)">721.221 E:T 5:1</text>
<rect x="473.3" y="116.1" width="6.3" height="5.1" fill="#000"/>
<rect x="473.8" y="125.6" width="5.3" height="4.1" rx="0.6" fill="#fff" stroke="#000" stroke-width="1.4"/>
<text x="483.5" y="121.2" font-size="7.6" font-weight="normal" stroke-width="0.1">CD57<tspan font-size="5.3" dy="-2.4">+</tspan></text>
<text x="483.5" y="130.6" font-size="7.6" font-weight="normal" stroke-width="0.1">CD57<tspan font-size="5.3" dy="-2.4">neg</tspan></text>
<text x="0.30" y="8.20" font-size="11.6" font-weight="bold" text-anchor="start">A</text>
<text x="277.70" y="8.50" font-size="11.2" font-weight="bold" text-anchor="start">B</text>
<text x="0.10" y="149.60" font-size="11.2" font-weight="bold" text-anchor="start">C</text>
<text x="276.10" y="151.40" font-size="11.2" font-weight="bold" text-anchor="start">D</text>
<text x="414.20" y="149.70" font-size="11.2" font-weight="bold" text-anchor="start">E</text>
</g>
</svg>
</body></html>
